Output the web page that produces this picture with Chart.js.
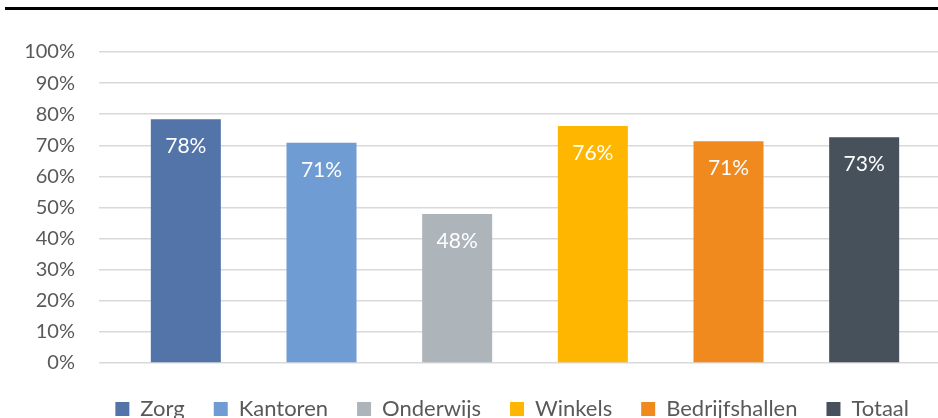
<!DOCTYPE html>
<html>
<head>
<meta charset="utf-8">
<script src="https://cdn.jsdelivr.net/npm/chart.js@4.4.0/dist/chart.umd.min.js"></script>
<style>
  html, body { margin: 0; padding: 0; background: #fff; overflow: hidden; }
  body { width: 938px; height: 418px; position: relative; }
  .topline { position: absolute; left: 5px; top: 7px; width: 933px; height: 3px; background: #000; }
  .wrap { position: absolute; left: 0; top: 0; width: 938px; height: 430px; }
</style>
</head>
<body>
<div class="topline"></div>
<div class="wrap"><canvas id="chart"></canvas></div>
<script>
// Aandeel per sector (in %)
var categories = ['Zorg', 'Kantoren', 'Onderwijs', 'Winkels', 'Bedrijfshallen', 'Totaal'];
var percentages = [78.4, 70.8, 47.9, 76.2, 71.3, 72.6];
var barColors = ['#5374A9', '#6E9CD3', '#ADB4BA', '#FFB600', '#F08A1F', '#46515B'];
var yTicks = [0, 10, 20, 30, 40, 50, 60, 70, 80, 90, 100];

(function(){
  var textColor = '#595959';
  var gridColor = '#D9D9D9';
  var fontFamily = 'Lato, "Open Sans", sans-serif';

  function setTicks(scale){
    scale.ticks = yTicks.map(function(v){ return { value: v }; });
  }

  // labels in de staaf (binnenkant boven)
  var barLabels = {
    id: 'barLabels',
    afterDatasetsDraw: function(chart){
      var ctx = chart.ctx;
      var meta = chart.getDatasetMeta(0);
      ctx.save();
      ctx.font = '21px ' + fontFamily;
      ctx.fillStyle = '#ffffff';
      ctx.textAlign = 'center';
      ctx.textBaseline = 'middle';
      meta.data.forEach(function(bar, i){
        ctx.fillText(Math.round(percentages[i]) + '%', bar.x, bar.y + 27);
      });
      ctx.restore();
    }
  };

  var el = document.getElementById('chart');
  new Chart(el.getContext('2d'), {
    type: 'bar',
    data: {
      labels: categories,
      datasets: [{
        label: 'Aandeel',
        data: percentages,
        backgroundColor: barColors,
        borderWidth: 0,
        categoryPercentage: 1,
        barPercentage: 0.516
      }]
    },
    options: {
      responsive: true,
      maintainAspectRatio: false,
      animation: false,
      layout: { padding: { top: 52, left: 18, right: 0, bottom: 0 } },
      scales: {
        x: {
          afterFit: function(scale){ scale.height = 6; },
          ticks: { display: false },
          grid: { display: false },
          border: { display: false }
        },
        y: {
          min: 0, max: 100,
          afterBuildTicks: setTicks,
          afterFit: function(scale){ scale.width = 100; },
          ticks: {
            autoSkip: false,
            padding: 24,
            color: textColor,
            font: { family: fontFamily, size: 20 },
            callback: function(v){ return v + '%'; }
          },
          grid: { color: gridColor, lineWidth: 1.5, tickLength: 19 },
          border: { display: false }
        },
        y2: {
          type: 'linear',
          position: 'right',
          min: 0, max: 100,
          afterBuildTicks: setTicks,
          ticks: { display: false, autoSkip: false },
          grid: { color: gridColor, lineWidth: 1.5, tickLength: 6, drawOnChartArea: false },
          border: { display: false }
        }
      },
      plugins: {
        tooltip: { enabled: false },
        legend: {
          position: 'bottom',
          align: 'end',
          onClick: null,
          labels: {
            boxWidth: 14,
            boxHeight: 14,
            padding: 29,
            color: textColor,
            font: { family: fontFamily, size: 22 },
            generateLabels: function(){
              return categories.map(function(c, i){
                return { text: c, fillStyle: barColors[i], strokeStyle: barColors[i], lineWidth: 0, hidden: false, index: i, fontColor: textColor };
              });
            }
          }
        }
      }
    },
    plugins: [barLabels]
  });
})();
</script>
</body>
</html>
